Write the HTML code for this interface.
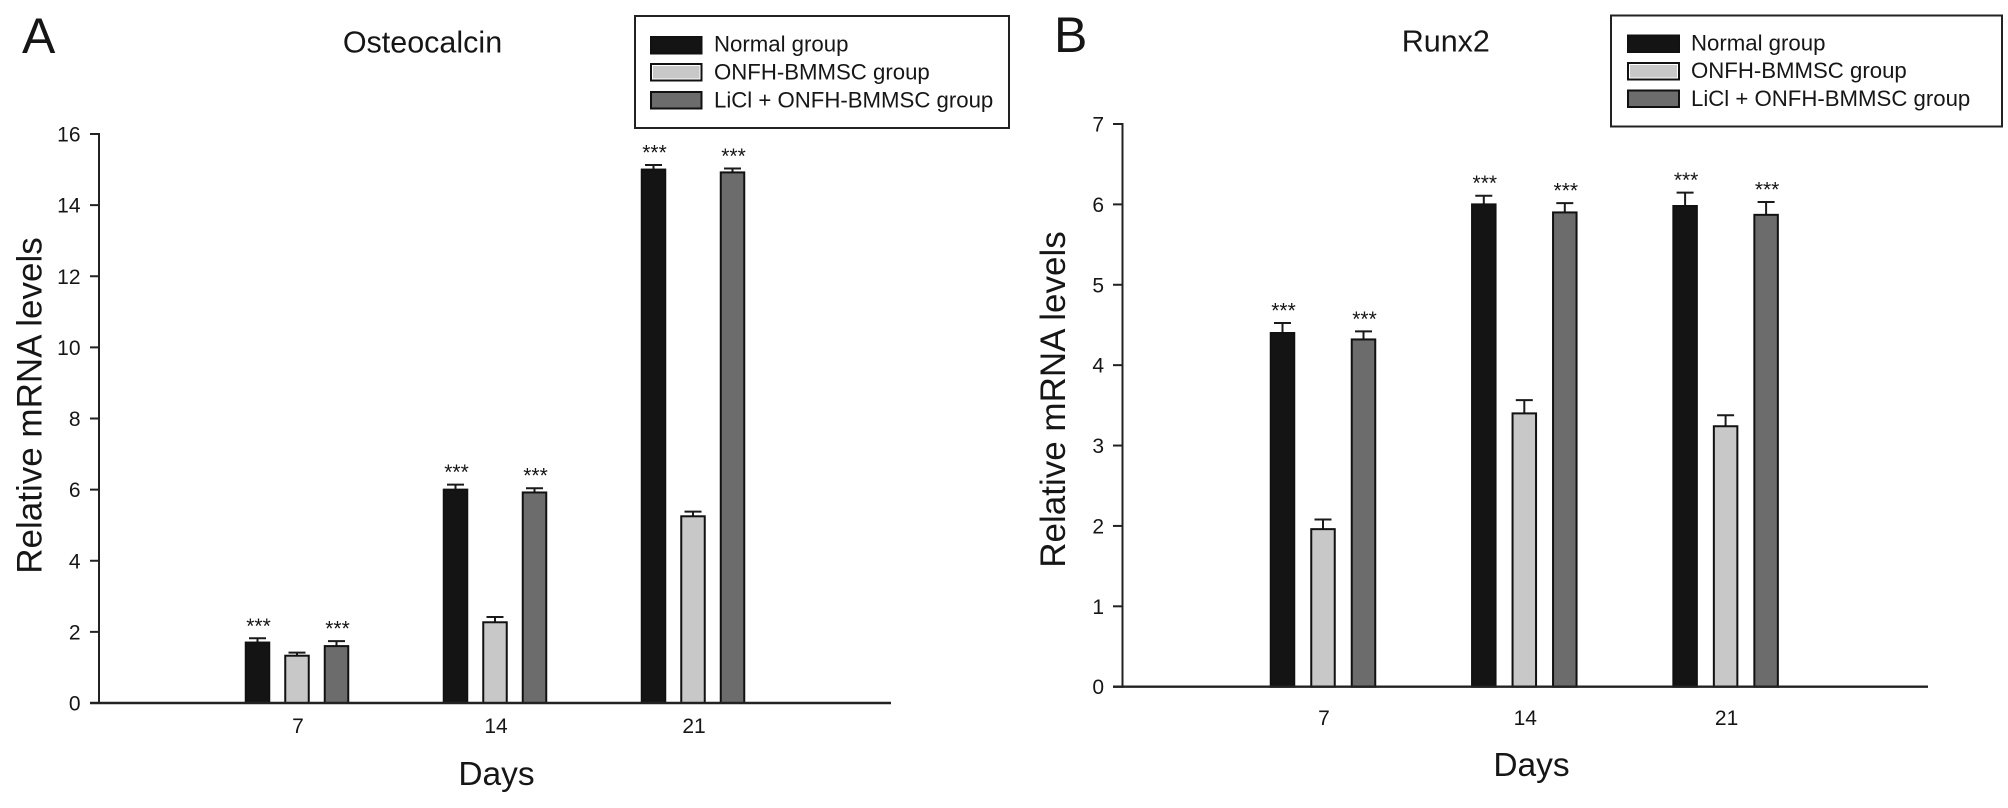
<!DOCTYPE html>
<html>
<head>
<meta charset="utf-8">
<title>Osteocalcin and Runx2 relative mRNA levels</title>
<style>
html,body{margin:0;padding:0;background:#fff;}
svg{display:block;}
text{font-family:"Liberation Sans",Arial,sans-serif;fill:#161616;}
</style>
</head>
<body>
<svg id="figure" xmlns="http://www.w3.org/2000/svg" width="2008" height="808" viewBox="0 0 2008 808">
  <rect width="2008" height="808" fill="#ffffff"/>

  <g id="panel-a">
    <text x="22" y="53" font-size="50">A</text>
    <text x="422.5" y="52.5" font-size="30.5" text-anchor="middle">Osteocalcin</text>
    <text transform="translate(41.5,405.5) rotate(-90)" font-size="35" text-anchor="middle">Relative mRNA levels</text>
    <text x="496.5" y="785" font-size="33.5" text-anchor="middle">Days</text>
    <g>
      <rect x="635" y="16" width="374" height="112" fill="#fff" stroke="#222" stroke-width="2"/>
      <rect x="651" y="37" width="50.5" height="16.5" fill="#141414" stroke="#111" stroke-width="2"/>
      <text x="714" y="51.5" font-size="22.2">Normal group</text>
      <rect x="651" y="64" width="50.5" height="16.5" fill="#c8c8c8" stroke="#111" stroke-width="2"/>
      <rect x="652.5" y="65.5" width="47.5" height="13.5" fill="none" stroke="#fff" stroke-width="1"/>
      <text x="714" y="79.5" font-size="22.2">ONFH-BMMSC group</text>
      <rect x="651" y="92" width="50.5" height="16.5" fill="#6c6c6c" stroke="#111" stroke-width="2"/>
      <text x="714" y="107.5" font-size="22.2">LiCl + ONFH-BMMSC group</text>
    </g>
  </g>

  <g id="panel-b">
    <text x="1054" y="52" font-size="50">B</text>
    <text x="1445.8" y="51.5" font-size="30.5" text-anchor="middle">Runx2</text>
    <text transform="translate(1065,399.5) rotate(-90)" font-size="35" text-anchor="middle">Relative mRNA levels</text>
    <text x="1531.5" y="776" font-size="33.5" text-anchor="middle">Days</text>
    <g>
      <rect x="1611" y="15.5" width="391" height="111" fill="#fff" stroke="#222" stroke-width="2"/>
      <rect x="1628" y="35.5" width="51" height="16.5" fill="#141414" stroke="#111" stroke-width="2"/>
      <text x="1691" y="50.5" font-size="22.2">Normal group</text>
      <rect x="1628" y="63" width="51" height="16.5" fill="#c8c8c8" stroke="#111" stroke-width="2"/>
      <rect x="1629.5" y="64.5" width="48" height="13.5" fill="none" stroke="#fff" stroke-width="1"/>
      <text x="1691" y="78" font-size="22.2">ONFH-BMMSC group</text>
      <rect x="1628" y="90.5" width="51" height="16.5" fill="#6c6c6c" stroke="#111" stroke-width="2"/>
      <text x="1691" y="106" font-size="22.2">LiCl + ONFH-BMMSC group</text>
    </g>
  </g>
</svg>

<script>
// Shared categories
const days = ['7', '14', '21'];
const seriesKeys = ['normal', 'onfh', 'licl'];

// Panel A: Osteocalcin
const osteoTicks = [0, 2, 4, 6, 8, 10, 12, 14, 16];
const osteoNormal = [1.70, 6.00, 15.00];
const osteoOnfh = [1.33, 2.27, 5.25];
const osteoLicl = [1.60, 5.92, 14.92];
const osteoNormalErr = [0.12, 0.14, 0.13];
const osteoOnfhErr = [0.085, 0.15, 0.13];
const osteoLiclErr = [0.14, 0.12, 0.11];

// Panel B: Runx2
const runxTicks = [0, 1, 2, 3, 4, 5, 6, 7];
const runxNormal = [4.40, 6.00, 5.98];
const runxOnfh = [1.96, 3.40, 3.24];
const runxLicl = [4.32, 5.90, 5.87];
const runxNormalErr = [0.124, 0.108, 0.166];
const runxOnfhErr = [0.12, 0.165, 0.137];
const runxLiclErr = [0.10, 0.116, 0.16];

// Significance markers per series
const normalStars = ['***', '***', '***'];
const onfhStars = ['', '', ''];
const liclStars = ['***', '***', '***'];

const fills = { normal: '#141414', onfh: '#c8c8c8', licl: '#6c6c6c' };
const SVG_NS = 'http://www.w3.org/2000/svg';

function mk(parent, tag, attrs, text) {
  const node = document.createElementNS(SVG_NS, tag);
  for (const k in attrs) node.setAttribute(k, attrs[k]);
  if (text !== undefined) node.textContent = text;
  parent.appendChild(node);
  return node;
}

function drawPanel(prefix, parent, geo, ticks, values, errors, stars) {
  const yMax = ticks[ticks.length - 1];
  const yScale = v => geo.y0 - (v / yMax) * (geo.y0 - geo.yTop);
  const xGroup = i => geo.x0Group + i * geo.groupStep;

  // Marks first so the axis sits over bar bases
  seriesKeys.forEach((key, s) => {
    days.forEach((day, i) => {
      const cx = xGroup(i) + (s - 1) * geo.barOffset;
      const top = yScale(values[s][i]);
      const errTop = yScale(values[s][i] + errors[s][i]);

      const stem = mk(parent, 'line', { x1: cx, x2: cx, y1: top, y2: errTop, stroke: '#1a1a1a', 'stroke-width': 2 });
      
      

      const cap = mk(parent, 'line', { x1: cx - 8.5, x2: cx + 8.5, y1: errTop, y2: errTop, stroke: '#1a1a1a', 'stroke-width': 2 });
      
      

      const bar = mk(parent, 'rect', {
        x: cx - geo.barWidth / 2 + 1, y: top,
        width: geo.barWidth - 2, height: Math.max(0, geo.y0 - top),
        fill: fills[key], stroke: '#111', 'stroke-width': 2
      });
      
      

      if (stars[s][i]) {
        const star = mk(parent, 'text', {
          x: cx + 1, y: errTop - 5.5,
          'font-size': 21, 'text-anchor': 'middle'
        }, stars[s][i]);
        
        
      }
    });
  });

  // Y axis line
  const yAxis = mk(parent, 'line', { x1: geo.xAxisLine, x2: geo.xAxisLine, y1: geo.yTop - 1, y2: geo.y0 + 1, stroke: '#222', 'stroke-width': 2 });
  
  

  // X axis line
  const xAxis = mk(parent, 'line', { x1: geo.xStart, x2: geo.xEnd, y1: geo.y0, y2: geo.y0, stroke: '#222', 'stroke-width': 2.4 });
  
  

  // Y ticks and labels
  ticks.forEach(t => {
    const y = yScale(t);
    const tick = mk(parent, 'line', { x1: geo.xStart, x2: geo.xAxisLine, y1: y, y2: y, stroke: '#222', 'stroke-width': 2 });
    
    

    const label = mk(parent, 'text', { x: geo.yLabelX, y: y + 7.5, 'font-size': 21, 'text-anchor': 'end' }, String(t));
    
    
  });

  // X category labels
  days.forEach((day, i) => {
    const label = mk(parent, 'text', { x: xGroup(i) + 1, y: geo.xLabelY, 'font-size': 21, 'text-anchor': 'middle' }, day);
    
    
  });
}

drawPanel('panel-a', document.getElementById('panel-a'),
  { y0: 703, yTop: 134, xAxisLine: 99, xStart: 90, xEnd: 891, x0Group: 297, groupStep: 198, barOffset: 39.5, barWidth: 25.5, yLabelX: 80.5, xLabelY: 733 },
  osteoTicks,
  [osteoNormal, osteoOnfh, osteoLicl],
  [osteoNormalErr, osteoOnfhErr, osteoLiclErr],
  [normalStars, onfhStars, liclStars]);

drawPanel('panel-b', document.getElementById('panel-b'),
  { y0: 686.7, yTop: 124, xAxisLine: 1122.5, xStart: 1113, xEnd: 1928, x0Group: 1323, groupStep: 201.3, barOffset: 40.5, barWidth: 25.5, yLabelX: 1104, xLabelY: 725 },
  runxTicks,
  [runxNormal, runxOnfh, runxLicl],
  [runxNormalErr, runxOnfhErr, runxLiclErr],
  [normalStars, onfhStars, liclStars]);
</script>
</body>
</html>
